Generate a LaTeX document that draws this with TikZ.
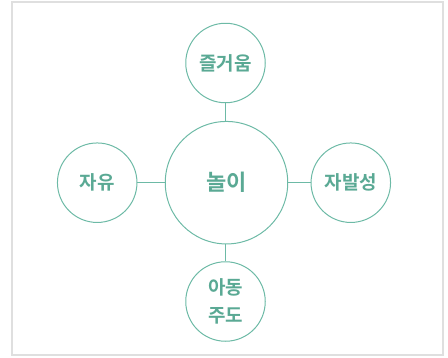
\documentclass[tikz,border=0pt]{standalone}
\usepackage{fontspec}
\newfontfamily\kr{Noto Sans CJK KR}[BoldFont={Noto Sans CJK KR Bold}]
\definecolor{teal1}{HTML}{6DBAA6}
\definecolor{tealtext}{HTML}{5AA994}
\definecolor{frame}{HTML}{DFDFDF}
\begin{document}
\begin{tikzpicture}[x=1pt,y=-1pt,
  bubble/.style={circle,draw=teal1,line width=1pt,minimum size=79.5pt,inner sep=0pt,
    text=tealtext,font=\kr\bfseries\fontsize{19}{28.5}\selectfont,align=center},
  hub/.style={bubble,minimum size=122.5pt,font=\kr\bfseries\fontsize{22}{25}\selectfont},
  link/.style={draw=teal1,line width=1pt}]
\useasboundingbox (0,0) rectangle (448,357);
\draw[frame,line width=2pt] (12,2) rectangle (442.5,355);
\node[hub] (c) at (226.5,182.7) {놀이};
\node[bubble] (t) at (225.5,63) {즐거움};
\node[bubble] (l) at (97.2,182.7) {자유};
\node[bubble] (r) at (350.8,182.7) {자발성};
\node[bubble] (b) at (225.5,301.5) {아동\\주도};
\draw[link] (t) -- (c.north -| t);
\draw[link] (l) -- (c);
\draw[link] (r) -- (c);
\draw[link] (b) -- (c.south -| b);
\end{tikzpicture}
\end{document}
